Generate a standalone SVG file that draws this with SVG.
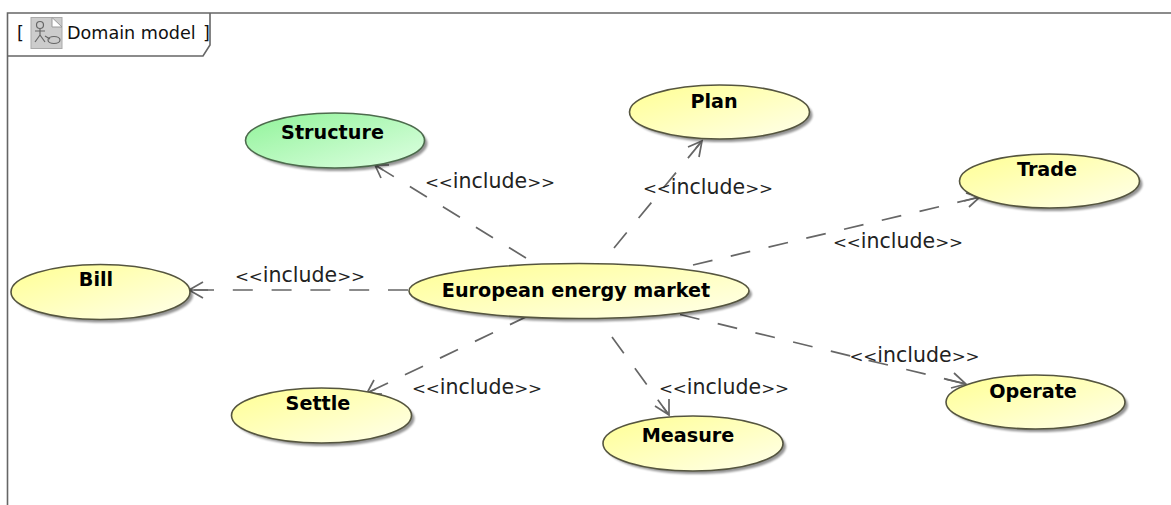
<svg xmlns="http://www.w3.org/2000/svg" width="1171" height="505" viewBox="0 0 1171 505">
<style>
.uc{stroke:#55553f;stroke-width:1.6;fill:url(#y)}
.gr{stroke:#4d6b4d;stroke-width:1.6;fill:url(#g)}
.sh{fill:#000;opacity:.42;filter:url(#b)}
.t{font:bold 19.200px "DejaVu Sans",Verdana,sans-serif;fill:#000;text-anchor:middle}
.l{font:20.500px "DejaVu Sans",Verdana,sans-serif;fill:#222;text-anchor:middle}
.a{font-size:16.700px}
.f{font:17.600px "DejaVu Sans",Verdana,sans-serif;fill:#111}
.c{fill:none;stroke:#666;stroke-width:1.700;stroke-dasharray:20 18.800}
.h{fill:none;stroke:#666;stroke-width:1.700}
</style>
<defs>
<linearGradient id="y" x1="0" y1="0" x2="1" y2="1"><stop offset="0.150" stop-color="#ffffa0"/><stop offset="1" stop-color="#ffffec"/></linearGradient>
<linearGradient id="g" x1="0" y1="0" x2="1" y2="1"><stop offset="0.150" stop-color="#9cf5a4"/><stop offset="1" stop-color="#dfffe3"/></linearGradient>
<filter id="b"><feGaussianBlur stdDeviation="1.200"/></filter>
</defs>
<rect width="1171" height="505" fill="#fff"/>
<g id="frame">
<path d="M7.500 505V13H1171" fill="none" stroke="#666" stroke-width="1.600"/>
<path d="M7.500 56H203L210 45V13" fill="none" stroke="#666" stroke-width="1.600"/>
<text class="f" x="17" y="39">[</text>
<rect x="31" y="17.500" width="31" height="31" fill="#ccc" stroke="#aaa"/>
<path d="M52 17.500L62 27H52Z" fill="#fff" stroke="#999"/>
<g fill="none" stroke="#666" stroke-width="1.200"><circle cx="40" cy="25" r="3.500"/><path d="M40 28.500V35M35 31H45M40 35L35 42M40 35L45 42M45 36L50 39"/><ellipse cx="54" cy="40" rx="6" ry="3.500"/></g>
<text class="f" x="67" y="39">Domain model</text>
<text class="f" x="203" y="39">]</text>
</g>
<g id="connectors">
<path class="c" d="M526 258L375 165"/><path class="h" d="M389 165L375 165L381 178M375 165L383 170"/>
<path class="c" d="M614 248L702 141"/><path class="h" d="M688 147L702 141L699 157M702 141L696 148"/>
<path class="c" d="M693 265L980 197"/><path class="h" d="M966 193L980 197L969 207M980 197L964 201"/>
<path class="c" d="M408 290H190"/><path class="h" d="M203 282L189 290L203 298M189 290H208"/>
<path class="c" d="M528 316L367 393"/><path class="h" d="M374 380L367 393L382 394M367 393L376 389"/>
<path class="c" d="M612 337L669 415"/><path class="h" d="M655 406L669 415L669 399M669 415L663 407"/>
<path class="c" d="M680 314.500L966 384"/><path class="h" d="M954 373L966 384L951 388M966 384L945 379"/>
</g>
<g id="structure"><ellipse class="sh" cx="338" cy="143.500" rx="89.500" ry="27.500"/><ellipse class="gr" cx="335" cy="140.500" rx="89.500" ry="27.500"/><text class="t" x="332.500" y="139">Structure</text></g>
<g id="plan"><ellipse class="sh" cx="722.500" cy="115" rx="90" ry="27"/><ellipse class="uc" cx="719.500" cy="112" rx="90" ry="27"/><text class="t" x="714" y="108">Plan</text></g>
<g id="trade"><ellipse class="sh" cx="1052.500" cy="184" rx="90" ry="27"/><ellipse class="uc" cx="1049.500" cy="181" rx="90" ry="27"/><text class="t" x="1047" y="176">Trade</text></g>
<g id="bill"><ellipse class="sh" cx="103.500" cy="295" rx="89.500" ry="27.500"/><ellipse class="uc" cx="100.500" cy="292" rx="89.500" ry="27.500"/><text class="t" x="96" y="286">Bill</text></g>
<g id="european-energy-market"><ellipse class="sh" cx="582" cy="294" rx="170" ry="27.500"/><ellipse class="uc" cx="579" cy="291" rx="170" ry="27.500"/><text class="t" x="576" y="297">European energy market</text></g>
<g id="settle"><ellipse class="sh" cx="324.500" cy="418.500" rx="90" ry="27.500"/><ellipse class="uc" cx="321.500" cy="415.500" rx="90" ry="27.500"/><text class="t" x="318" y="410">Settle</text></g>
<g id="measure"><ellipse class="sh" cx="696" cy="446.500" rx="90" ry="27.500"/><ellipse class="uc" cx="693" cy="443.500" rx="90" ry="27.500"/><text class="t" x="688" y="442">Measure</text></g>
<g id="operate"><ellipse class="sh" cx="1038.500" cy="405" rx="89.500" ry="27"/><ellipse class="uc" cx="1035.500" cy="402" rx="89.500" ry="27"/><text class="t" x="1033" y="398">Operate</text></g>
<g id="labels">
<text class="l" x="490" y="188"><tspan class="a">&lt;&lt;</tspan>include<tspan class="a">&gt;&gt;</tspan></text>
<text class="l" x="708" y="194"><tspan class="a">&lt;&lt;</tspan>include<tspan class="a">&gt;&gt;</tspan></text>
<text class="l" x="898" y="248"><tspan class="a">&lt;&lt;</tspan>include<tspan class="a">&gt;&gt;</tspan></text>
<text class="l" x="300" y="282"><tspan class="a">&lt;&lt;</tspan>include<tspan class="a">&gt;&gt;</tspan></text>
<text class="l" x="477" y="394"><tspan class="a">&lt;&lt;</tspan>include<tspan class="a">&gt;&gt;</tspan></text>
<text class="l" x="724" y="394"><tspan class="a">&lt;&lt;</tspan>include<tspan class="a">&gt;&gt;</tspan></text>
<text class="l" x="914.500" y="362"><tspan class="a">&lt;&lt;</tspan>include<tspan class="a">&gt;&gt;</tspan></text>
</g>
</svg>
